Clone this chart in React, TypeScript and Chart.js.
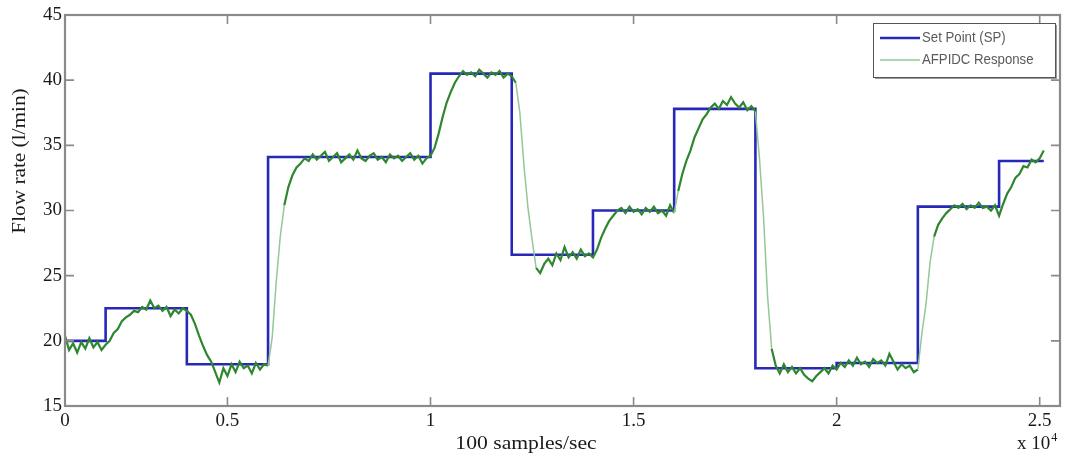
import React, { useEffect, useRef } from "react";
import { Chart, registerables } from "chart.js";

Chart.register(...registerables);

// ---- Data ----
// Set point steps: sample index where each level starts, and the level (l/min)
const setPointSamples = [1000, 2000, 4000, 6000, 10000, 12000, 14000, 16000, 18000, 20000, 22000, 24000, 25100];
const setPointFlow = [20.0, 22.5, 18.2, 34.1, 40.5, 26.6, 30.0, 37.8, 17.9, 18.3, 30.3, 33.8, 33.8];

// AFPIDC response, one reading every 100 samples starting at sample 1000
const responseStart = 1000;
const responseStep = 100;
const responseFlow = [
  20.4, 19.3, 19.8, 19.1, 19.9, 19.4, 20.2, 19.5, 19.9, 19.3,
  19.7, 20.0, 20.6, 20.9, 21.5, 21.8, 22.0, 22.3, 22.2, 22.6,
  22.4, 23.1, 22.5, 22.7, 22.3, 22.6, 21.9, 22.4, 22.1, 22.5,
  22.3, 22.0, 21.3, 20.4, 19.6, 18.9, 18.4, 17.6, 16.8, 17.9,
  17.3, 18.2, 17.6, 18.4, 17.9, 18.1, 17.5, 18.3, 17.8, 18.2,
  18.1, 20.2, 24.5, 28.0, 30.4, 31.8, 32.7, 33.3, 33.6, 34.0,
  33.8, 34.3, 33.9, 34.2, 34.5, 33.8, 34.1, 34.4, 33.7, 34.0,
  34.3, 33.9, 34.6, 34.0, 33.8, 34.2, 34.4, 33.9, 34.1, 33.7,
  34.3, 34.0, 34.2, 33.8, 34.1, 34.4, 33.9, 34.2, 33.6, 34.0,
  34.2, 34.8, 35.9, 37.2, 38.3, 39.1, 39.8, 40.3, 40.7, 40.4,
  40.6, 40.3, 40.8, 40.5, 40.2, 40.6, 40.4, 40.7, 40.2, 40.5,
  40.3, 39.8, 37.5, 33.5, 30.2, 27.8, 25.6, 25.2, 25.9, 26.3,
  25.8, 26.7, 26.2, 27.2, 26.4, 26.8, 26.3, 27.0, 26.5, 26.7,
  26.4, 27.0, 27.9, 28.6, 29.2, 29.6, 30.0, 30.2, 29.8, 30.3,
  29.9, 30.1, 29.7, 30.2, 29.9, 30.3, 29.8, 30.0, 29.6, 30.4,
  29.8, 31.5, 32.8, 33.8, 34.6, 35.6, 36.3, 37.0, 37.4, 37.9,
  38.2, 37.8, 38.4, 38.1, 38.7, 38.2, 37.9, 38.3, 37.7, 38.0,
  37.6, 34.0, 29.5, 23.4, 19.4, 18.1, 17.5, 18.2, 17.6, 18.0,
  17.5, 17.9, 17.4, 17.1, 16.9, 17.3, 17.6, 17.9, 17.5, 18.1,
  17.8, 18.3, 18.0, 18.5, 18.1, 18.7, 18.2, 18.4, 18.0, 18.6,
  18.3, 18.5, 18.1, 19.0, 18.4, 17.8, 18.2, 17.9, 18.1, 17.6,
  17.8, 20.6, 22.8, 26.0, 28.0, 28.9, 29.4, 29.8, 30.1, 30.4,
  30.2, 30.5, 30.1, 30.4, 30.2, 30.6, 30.2, 30.3, 30.0, 30.4,
  29.6, 30.5, 31.3, 31.8, 32.5, 32.8, 33.4, 33.3, 33.9, 33.7,
  34.0, 34.6,
];

// Axes
const xMin = 1000;
const xMax = 25500;
const xTickValues = [1000, 5000, 10000, 15000, 20000, 25000];
const xTickLabels = ["0", "0.5", "1", "1.5", "2", "2.5"];
const yMin = 15;
const yMax = 45;
const yTickValues = [15, 20, 25, 30, 35, 40, 45];

const seriesNames = ["Set Point (SP)", "AFPIDC Response"];
const yTitle = "Flow rate (l/min)";
const xTitle = "100 samples/sec";

// ---- Styles ----
const BLUE = "#2828b8";
const GREEN_DARK = "#2e872e";
const GREEN_LIGHT = "#94c894";
const FRAME = "#8a8a8a";
const SERIF = "'Liberation Serif', 'Times New Roman', serif";
const SANS = "'Liberation Sans', Arial, sans-serif";

const framePlugin = {
  id: "matlabFrame",
  afterDraw(chart: any) {
    const { ctx, chartArea: a, scales } = chart;
    const xs = scales.x;
    const ys = scales.y;
    ctx.save();
    // box
    ctx.strokeStyle = FRAME;
    ctx.lineWidth = 2.2;
    ctx.strokeRect(a.left, a.top, a.right - a.left, a.bottom - a.top);
    // inward ticks
    ctx.lineWidth = 1.6;
    ctx.beginPath();
    const tl = 9;
    for (const v of xTickValues) {
      const px = xs.getPixelForValue(v);
      ctx.moveTo(px, a.bottom);
      ctx.lineTo(px, a.bottom - tl);
      ctx.moveTo(px, a.top);
      ctx.lineTo(px, a.top + tl);
    }
    for (const v of yTickValues) {
      const py = ys.getPixelForValue(v);
      ctx.moveTo(a.left, py);
      ctx.lineTo(a.left + tl, py);
      ctx.moveTo(a.right, py);
      ctx.lineTo(a.right - tl, py);
    }
    ctx.stroke();

    // axis titles (slightly widened like the scanned original)
    ctx.fillStyle = "#1a1a1a";
    ctx.font = `19px ${SERIF}`;
    ctx.textAlign = "center";
    ctx.textBaseline = "middle";
    ctx.save();
    ctx.translate(a.left - 45, a.top + 146);
    ctx.rotate(-Math.PI / 2);
    ctx.scale(1.12, 1);
    ctx.fillText(yTitle, 0, 0);
    ctx.restore();

    ctx.textBaseline = "alphabetic";
    ctx.save();
    ctx.translate(a.left + 461, a.bottom + 43);
    ctx.scale(1.14, 1);
    ctx.fillText(xTitle, 0, 0);
    ctx.restore();

    // x 10^4 multiplier
    ctx.textAlign = "left";
    const mx = a.right - 43;
    const my = a.bottom + 43;
    ctx.fillText("x 10", mx, my);
    const w = ctx.measureText("x 10").width;
    ctx.font = `12px ${SERIF}`;
    ctx.fillText("4", mx + w + 1, my - 8);

    // legend
    const lx = a.right - 187;
    const ly = a.top + 8;
    const lw = 182;
    const lh = 54;
    ctx.fillStyle = "#9a9a9a";
    ctx.fillRect(lx + 2, ly + 2, lw, lh);
    ctx.fillStyle = "#ffffff";
    ctx.fillRect(lx, ly, lw, lh);
    ctx.strokeStyle = "#555555";
    ctx.lineWidth = 1;
    ctx.strokeRect(lx + 0.5, ly + 0.5, lw, lh);

    const rows = [
      { color: BLUE, width: 2.5, y: ly + 15 },
      { color: GREEN_LIGHT, width: 1.6, y: ly + 37 },
    ];
    ctx.font = `15px ${SANS}`;
    ctx.textBaseline = "middle";
    ctx.textAlign = "left";
    rows.forEach((r, i) => {
      ctx.strokeStyle = r.color;
      ctx.lineWidth = r.width;
      ctx.beginPath();
      ctx.moveTo(lx + 7, r.y);
      ctx.lineTo(lx + 47, r.y);
      ctx.stroke();
      ctx.fillStyle = "#5a5a5a";
      ctx.save();
      ctx.translate(lx + 49, r.y);
      ctx.scale(0.88, 1);
      ctx.fillText(seriesNames[i], 0, 0);
      ctx.restore();
    });
    ctx.restore();
  },
};

export default function App() {
  const canvasRef = useRef<HTMLCanvasElement>(null);

  useEffect(() => {
    const setPointData = setPointSamples.map((x, i) => ({ x, y: setPointFlow[i] }));
    const responseData = responseFlow.map((y, i) => ({ x: responseStart + i * responseStep, y }));

    const chart = new Chart(canvasRef.current as HTMLCanvasElement, {
      type: "line",
      data: {
        datasets: [
          {
            label: seriesNames[0],
            data: setPointData,
            borderColor: BLUE,
            borderWidth: 2.6,
            stepped: true,
            pointRadius: 0,
            fill: false,
            order: 2,
          },
          {
            label: seriesNames[1],
            data: responseData,
            borderColor: GREEN_DARK,
            borderWidth: 2,
            pointRadius: 0,
            tension: 0,
            fill: false,
            order: 1,
            segment: {
              borderColor: (c: any) =>
                Math.abs(c.p1.parsed.y - c.p0.parsed.y) > 1.6 ? GREEN_LIGHT : GREEN_DARK,
              borderWidth: (c: any) =>
                Math.abs(c.p1.parsed.y - c.p0.parsed.y) > 1.6 ? 1.5 : 2.2,
            },
          },
        ],
      },
      options: {
        animation: false,
        responsive: true,
        maintainAspectRatio: false,
        layout: { padding: { top: 15, right: 10, left: 0, bottom: 0 } },
        plugins: {
          legend: { display: false },
          tooltip: { enabled: false },
        },
        scales: {
          x: {
            type: "linear",
            min: xMin,
            max: xMax,
            afterBuildTicks: (s: any) => {
              s.ticks = xTickValues.map((v) => ({ value: v }));
            },
            afterFit: (s: any) => {
              s.height = 56;
            },
            grid: { display: false, drawTicks: false },
            border: { display: false },
            ticks: {
              autoSkip: false,
              maxRotation: 0,
              padding: 4,
              color: "#1a1a1a",
              font: { family: SERIF, size: 19 },
              callback: (v: any) => {
                const i = xTickValues.indexOf(Number(v));
                return i >= 0 ? xTickLabels[i] : "";
              },
            },
          },
          y: {
            type: "linear",
            min: yMin,
            max: yMax,
            afterBuildTicks: (s: any) => {
              s.ticks = yTickValues.map((v) => ({ value: v }));
            },
            afterFit: (s: any) => {
              s.width = 65;
            },
            grid: { display: false, drawTicks: false },
            border: { display: false },
            ticks: {
              padding: 3,
              color: "#1a1a1a",
              font: { family: SERIF, size: 19 },
            },
          },
        },
      },
      plugins: [framePlugin],
    });
    return () => chart.destroy();
  }, []);

  return (
    <div style={{ position: "fixed", left: 0, top: 0, width: 1070, height: 462, background: "#ffffff" }}>
      <canvas ref={canvasRef} />
    </div>
  );
}
